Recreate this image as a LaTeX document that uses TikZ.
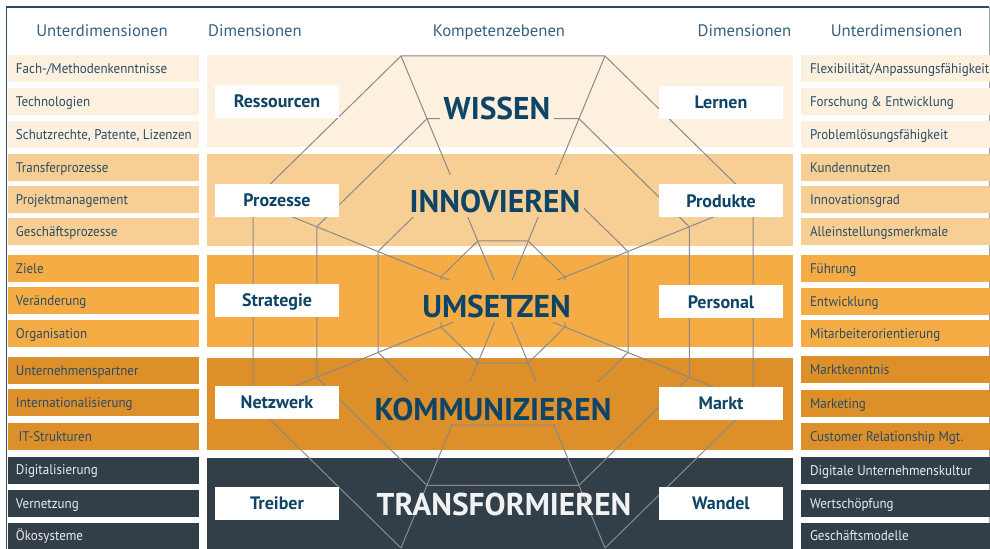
\documentclass[tikz,border=0pt]{standalone}
\usepackage{fontspec}
\setmainfont{PT Sans}
\newfontfamily\subfont[FakeStretch=0.93]{PT Sans}
\usepackage{xcolor}
\usetikzlibrary{positioning,calc}

\definecolor{bandA}{HTML}{FDF0DE}
\definecolor{bandB}{HTML}{F7CF95}
\definecolor{bandC}{HTML}{F5AC45}
\definecolor{bandD}{HTML}{DD8F2A}
\definecolor{bandE}{HTML}{323F49}
\definecolor{netgray}{HTML}{8A8A8A}
\definecolor{headblue}{HTML}{35607F}
\definecolor{subblue}{HTML}{2B4C66}
\definecolor{dimblue}{HTML}{0E4466}
\definecolor{framecol}{HTML}{2E4A62}

\tikzset{
  subbox/.style={minimum width=143.25pt, minimum height=20.25pt, inner sep=0pt},
  subboxr/.style={minimum width=141.75pt, minimum height=20.25pt, inner sep=0pt},
  subtext/.style={inner sep=0pt, text=subblue, text height=7.35pt, text depth=0pt, font=\subfont\fontsize{10.5}{12}\selectfont},
  subtextw/.style={subtext, text=white!92!black},
  band/.style={minimum width=439.5pt, minimum height=69pt, inner sep=0pt},
  dimbox/.style={fill=white, minimum width=93pt, minimum height=24.75pt, inner sep=0pt, text=dimblue, text height=9.45pt, text depth=0pt, font=\bfseries\fontsize{13.5}{15}\selectfont},
  lvltext/.style={anchor=base, inner xsep=3pt, inner ysep=3pt, text height=25.5pt, text depth=0pt, text=dimblue, font=\bfseries\fontsize{23.6}{28}\selectfont},
  headtext/.style={inner sep=0pt, text=headblue, text height=8.75pt, text depth=0pt, font=\fontsize{12.5}{14}\selectfont},
  netline/.style={draw=netgray, line width=0.75pt}
}

\begin{document}
\begin{tikzpicture}[x=0.75pt,y=0.75pt,yscale=-1,xscale=1]
\useasboundingbox (0,0) rectangle (990,549);

%Frame
\draw [framecol, line width=1.1pt] (6.5,549) -- (6.5,7) -- (989,7) ;
\draw [framecol!50, line width=0.6pt] (989,7) -- (989,549) ;

% Header
\node [headtext] (hUl) at (102,31) {Unterdimensionen};
\node [headtext] (hDl) at (255,31) {Dimensionen};
\node [headtext] (hKo) at (499,31) {Kompetenzebenen};
\node [headtext] (hDr) at (744.5,31) {Dimensionen};
\node [headtext] (hUr) at (896.5,31) {Unterdimensionen};

%Shape: Bands
\node [band, fill=bandA] (bWis) at (500,101) {};
\node [band, fill=bandB] (bInn) at (500,200) {};
\node [band, fill=bandC] (bUms) at (500,301) {};
\node [band, fill=bandD] (bKom) at (500,403.5) {};
\node [band, fill=bandE] (bTra) at (500,503.5) {};

% Left sub dimensions
\node [subbox, fill=bandA] (ul1) at (103.5,68.5) {};   \node [subtext, right=6pt of ul1.west] (ult1) {Fach-/Methodenkenntnisse};
\node [subbox, fill=bandA] (ul2) at (103.5,101.5) {};  \node [subtext, right=6pt of ul2.west] (ult2) {Technologien};
\node [subbox, fill=bandA] (ul3) at (103.5,134.5) {};  \node [subtext, right=6pt of ul3.west] (ult3) {Schutzrechte, Patente, Lizenzen};
\node [subbox, fill=bandB] (ul4) at (103.5,168) {};    \node [subtext, right=6pt of ul4.west] (ult4) {Transferprozesse};
\node [subbox, fill=bandB] (ul5) at (103.5,200) {};    \node [subtext, right=6pt of ul5.west] (ult5) {Projektmanagement};
\node [subbox, fill=bandB] (ul6) at (103.5,232) {};    \node [subtext, right=6pt of ul6.west] (ult6) {Geschäftsprozesse};
\node [subbox, fill=bandC] (ul7) at (103.5,268.5) {};  \node [subtext, right=6pt of ul7.west] (ult7) {Ziele};
\node [subbox, fill=bandC] (ul8) at (103.5,301) {};    \node [subtext, right=6pt of ul8.west] (ult8) {Veränderung};
\node [subbox, fill=bandC] (ul9) at (103.5,333.5) {};  \node [subtext, right=6pt of ul9.west] (ult9) {Organisation};
\node [subbox, fill=bandD] (ul10) at (103.5,370.5) {}; \node [subtext, right=6pt of ul10.west] (ult10) {Unternehmenspartner};
\node [subbox, fill=bandD] (ul11) at (103.5,402.5) {}; \node [subtext, right=6pt of ul11.west] (ult11) {Internationalisierung};
\node [subbox, fill=bandD] (ul12) at (103.5,436.5) {}; \node [subtext, right=8pt of ul12.west] (ult12) {IT-Strukturen};
\node [subbox, fill=bandE] (ul13) at (103.5,470) {};   \node [subtextw, right=6pt of ul13.west] (ult13) {Digitalisierung};
\node [subbox, fill=bandE] (ul14) at (103.5,503.5) {}; \node [subtextw, right=6pt of ul14.west] (ult14) {Vernetzung};
\node [subbox, fill=bandE] (ul15) at (103.5,536) {};   \node [subtextw, right=6pt of ul15.west] (ult15) {Ökosysteme};

% Right sub dimensions
\node [subboxr, fill=bandA] (ur1) at (895.5,68.5) {};   \node [subtext, right=6.75pt of ur1.west] (urt1) {Flexibilität/Anpassungsfähigkeit};
\node [subboxr, fill=bandA] (ur2) at (895.5,101.5) {};  \node [subtext, right=6.75pt of ur2.west] (urt2) {Forschung \& Entwicklung};
\node [subboxr, fill=bandA] (ur3) at (895.5,134.5) {};  \node [subtext, right=6.75pt of ur3.west] (urt3) {Problemlösungsfähigkeit};
\node [subboxr, fill=bandB] (ur4) at (895.5,167.5) {};  \node [subtext, right=6.75pt of ur4.west] (urt4) {Kundennutzen};
\node [subboxr, fill=bandB] (ur5) at (895.5,200) {};    \node [subtext, right=6.75pt of ur5.west] (urt5) {Innovationsgrad};
\node [subboxr, fill=bandB] (ur6) at (895.5,232) {};    \node [subtext, right=6.75pt of ur6.west] (urt6) {Alleinstellungsmerkmale};
\node [subboxr, fill=bandC] (ur7) at (895.5,268.5) {};  \node [subtext, right=6.75pt of ur7.west] (urt7) {Führung};
\node [subboxr, fill=bandC] (ur8) at (895.5,301.5) {};  \node [subtext, right=6.75pt of ur8.west] (urt8) {Entwicklung};
\node [subboxr, fill=bandC] (ur9) at (895.5,333.5) {};  \node [subtext, right=6.75pt of ur9.west] (urt9) {Mitarbeiterorientierung};
\node [subboxr, fill=bandD] (ur10) at (895.5,369.5) {}; \node [subtext, right=6.75pt of ur10.west] (urt10) {Marktkenntnis};
\node [subboxr, fill=bandD] (ur11) at (895.5,403.5) {}; \node [subtext, right=6.75pt of ur11.west] (urt11) {Marketing};
\node [subboxr, fill=bandD] (ur12) at (895.5,436.5) {}; \node [subtext, right=6.75pt of ur12.west] (urt12) {Customer Relationship Mgt.};
\node [subboxr, fill=bandE] (ur13) at (895.5,470.5) {}; \node [subtextw, right=6.75pt of ur13.west] (urt13) {Digitale Unternehmenskultur};
\node [subboxr, fill=bandE] (ur14) at (895.5,503.5) {}; \node [subtextw, right=6.75pt of ur14.west] (urt14) {Wertschöpfung};
\node [subboxr, fill=bandE] (ur15) at (895.5,536) {};   \node [subtextw, right=6.75pt of ur15.west] (urt15) {Geschäftsmodelle};

% Octagon net
\coordinate (C) at (503,302);
\coordinate (o1) at (401,56);
\coordinate (o2) at (605,56);
\coordinate (o3) at (753,201);
\coordinate (o4) at (753,403);
\coordinate (o5) at (605,548);
\coordinate (o6) at (401,548);
\coordinate (o7) at (253,403);
\coordinate (o8) at (253,201);

%Shape: outer octagon
\draw [netline] (o5) -- (o4) -- (o3) -- (o2) -- (o1) -- (o8) -- (o7) -- (o6) ;
%Shape: octagon 2
\draw [netline] ($(C)!0.745!(o1)$) -- ($(C)!0.745!(o2)$) -- ($(C)!0.745!(o3)$) -- ($(C)!0.745!(o4)$) -- ($(C)!0.745!(o5)$) -- ($(C)!0.745!(o6)$) -- ($(C)!0.745!(o7)$) -- ($(C)!0.745!(o8)$) -- cycle ;
%Shape: octagon 3
\draw [netline] ($(C)!0.5!(o1)$) -- ($(C)!0.5!(o2)$) -- ($(C)!0.5!(o3)$) -- ($(C)!0.5!(o4)$) -- ($(C)!0.5!(o5)$) -- ($(C)!0.5!(o6)$) -- ($(C)!0.5!(o7)$) -- ($(C)!0.5!(o8)$) -- cycle ;
%Shape: inner octagon
\draw [netline] ($(C)!0.248!(o1)$) -- ($(C)!0.248!(o2)$) -- ($(C)!0.248!(o3)$) -- ($(C)!0.248!(o4)$) -- ($(C)!0.248!(o5)$) -- ($(C)!0.248!(o6)$) -- ($(C)!0.248!(o7)$) -- ($(C)!0.248!(o8)$) -- cycle ;
%Straight Lines: spokes
\draw [netline] (o1) -- (C) ;
\draw [netline] (o2) -- (C) ;
\draw [netline] (o3) -- (C) ;
\draw [netline] (o4) -- (C) ;
\draw [netline] (o5) -- (C) ;
\draw [netline] (o6) -- (C) ;
\draw [netline] (o7) -- (C) ;
\draw [netline] (o8) -- (C) ;

% Levels
\node [lvltext, fill=bandA] (lWis) at (497,120) {WISSEN};
\node [lvltext, fill=bandB] (lInn) at (495,213) {INNOVIEREN};
\node [lvltext, fill=bandC] (lUms) at (496.5,318) {UMSETZEN};
\node [lvltext, fill=bandD] (lKom) at (493,420) {KOMMUNIZIEREN};
\node [lvltext, text=white!95!black] (lTra) at (504,515) {TRANSFORMIEREN};

% Dimensions
\node [dimbox] (dRes) at (277,101.5) {Ressourcen};
\node [dimbox] (dPro) at (277,200.5) {Prozesse};
\node [dimbox] (dStr) at (277,300.5) {Strategie};
\node [dimbox] (dNet) at (277,402.5) {Netzwerk};
\node [dimbox] (dTre) at (277,503) {Treiber};
\node [dimbox] (dLer) at (721,102.5) {Lernen};
\node [dimbox] (dPrd) at (721,201) {Produkte};
\node [dimbox] (dPer) at (721,302) {Personal};
\node [dimbox] (dMar) at (721,403) {Markt};
\node [dimbox] (dWan) at (721,503) {Wandel};

\end{tikzpicture}
\end{document}
